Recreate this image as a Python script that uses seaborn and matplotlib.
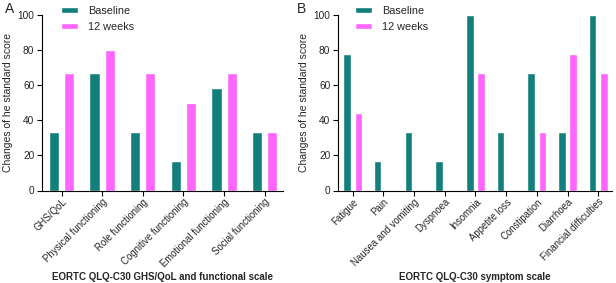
import matplotlib
matplotlib.use("Agg")
import matplotlib.pyplot as plt
import seaborn as sns
import pandas as pd

# Panel A: GHS/QoL and functional scale
func_items = ["GHS/QoL", "Physical functioning", "Role functioning",
              "Cognitive functioning", "Emotional functioning", "Social functioning"]
func_baseline = [33.3, 66.7, 33.3, 16.7, 58.3, 33.3]
func_12w = [66.7, 80.0, 66.7, 50.0, 66.7, 33.3]

# Panel B: symptom scale
symp_items = ["Fatigue", "Pain", "Nausea and vomiting", "Dyspnoea", "Insomnia",
              "Appetite loss", "Constipation", "Diarrhoea", "Financial difficulties"]
symp_baseline = [77.8, 16.7, 33.3, 16.7, 100.0, 33.3, 66.7, 33.3, 100.0]
symp_12w = [44.4, 0.0, 0.0, 0.0, 66.7, 0.0, 33.3, 77.8, 66.7]

groups = ["Baseline", "12 weeks"]
colors = {"Baseline": "#127f7a", "12 weeks": "#ff66ff"}


def to_long(items, base, wk):
    rows = []
    for i, it in enumerate(items):
        rows.append({"item": it, "time": groups[0], "score": base[i]})
        rows.append({"item": it, "time": groups[1], "score": wk[i]})
    return pd.DataFrame(rows)


sns.set_style("ticks")
plt.rcParams["font.family"] = ["Liberation Sans", "DejaVu Sans"]

fig = plt.figure(figsize=(6.16, 2.83), dpi=100)
ax_a = fig.add_axes([42 / 616, 92.5 / 283, 241 / 616, 175.5 / 283])
ax_b = fig.add_axes([338 / 616, 92.5 / 283, 274 / 616, 175.5 / 283])


def draw_panel(ax, items, base, wk, xlabel, leg_x):
    df = to_long(items, base, wk)
    sns.barplot(data=df, x="item", y="score", hue="time", hue_order=groups,
                palette=colors, width=0.75, gap=1 / 3, ax=ax, saturation=1,
                errorbar=None)
    ax.set_ylim(0, 100)
    ax.set_xlim(-0.48, len(items) - 0.55)
    ax.set_yticks([0, 20, 40, 60, 80, 100])
    ax.set_xticks(range(len(items)))
    ax.set_xticklabels(items, rotation=45, ha="right", rotation_mode="anchor")
    ax.tick_params(labelsize=7.3, length=3.5, width=0.8, color="black", pad=2)
    ax.tick_params(axis="x", pad=1, labelsize=6.9)
    for s in ["left", "bottom"]:
        ax.spines[s].set_linewidth(0.8)
        ax.spines[s].set_color("black")
    sns.despine(ax=ax)
    ax.set_ylabel("Changes of he standard score", fontsize=7.5, labelpad=3)
    ax.set_xlabel(xlabel, fontsize=7.0, fontweight="bold")
    ax.xaxis.set_label_coords(0.5, -0.465)
    ax.get_legend().remove()
    ax.legend(loc="upper left", bbox_to_anchor=(leg_x, 1.075), frameon=False,
              fontsize=7.8, handlelength=1.6, handleheight=0.5,
              labelspacing=0.5, handletextpad=0.9, borderaxespad=0)


draw_panel(ax_a, func_items, func_baseline, func_12w,
           "EORTC QLQ-C30 GHS/QoL and functional scale", 0.06)
draw_panel(ax_b, symp_items, symp_baseline, symp_12w,
           "EORTC QLQ-C30 symptom scale", 0.045)

fig.text(5 / 616, 1 - 13 / 283, "A", fontsize=10)
fig.text(297 / 616, 1 - 13 / 283, "B", fontsize=10)

fig.savefig("out.png", dpi=100)
